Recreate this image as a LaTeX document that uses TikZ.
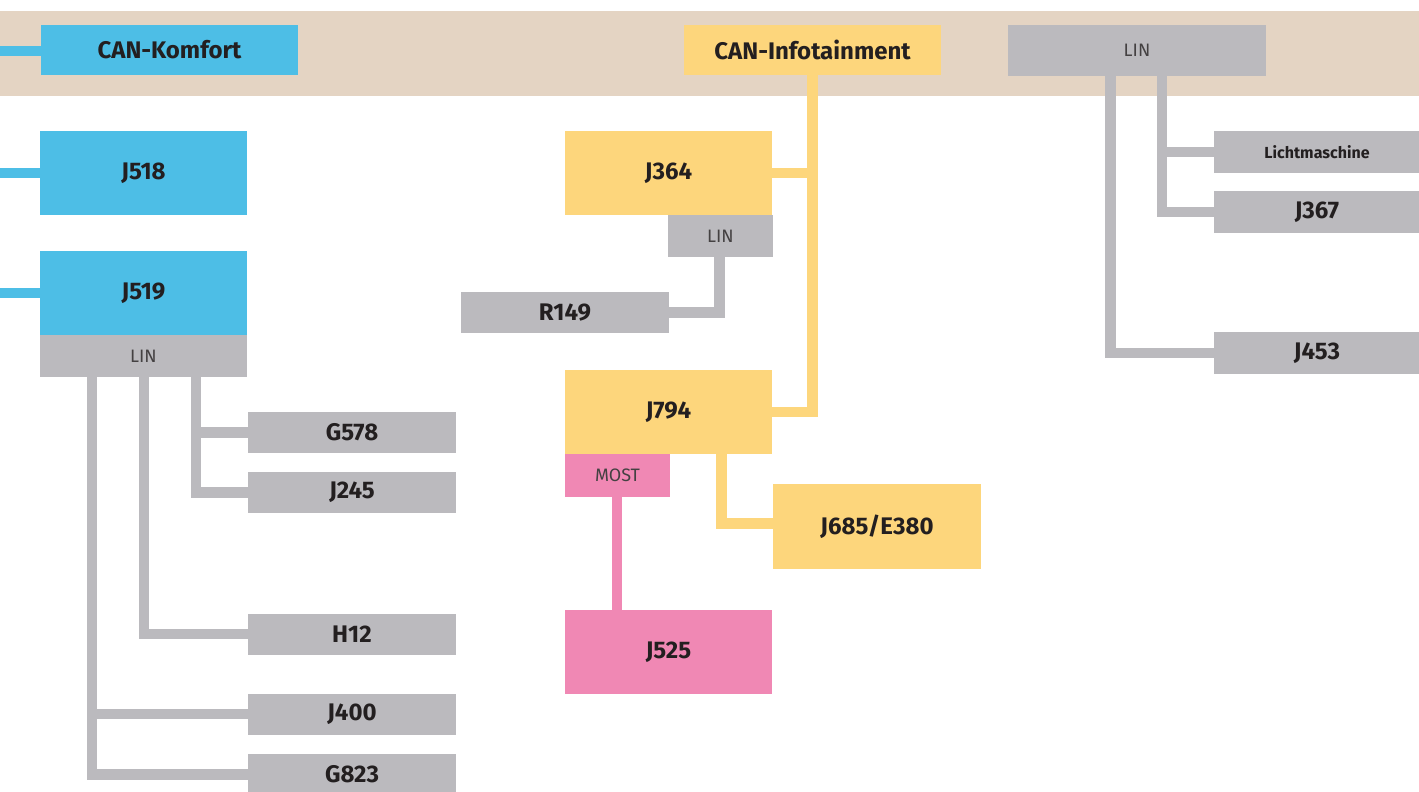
\documentclass[tikz,border=0pt]{standalone}
\usepackage{fontspec}
\setmainfont{Fira Sans}
\definecolor{cblue}{HTML}{4DBEE6}
\definecolor{cyel}{HTML}{FDD67C}
\definecolor{cpink}{HTML}{F088B4}
\definecolor{cgray}{HTML}{BBBABE}
\definecolor{cband}{HTML}{E4D4C3}
\definecolor{ctxt}{HTML}{231F20}
\begin{document}
\begin{tikzpicture}[x=1pt,y=-1pt,
  bx/.style={rectangle, inner sep=0pt, outer sep=0pt, text=ctxt, font=\bfseries\fontsize{24}{24}\selectfont},
  wide/.style={minimum width=207, minimum height=84},
  slim/.style={minimum width=208, minimum height=41},
  bus/.style={rectangle, inner sep=0pt, outer sep=0pt, text=ctxt!85, font=\fontsize{18}{18}\selectfont},
  lb/.style={line width=10.5pt, cblue},
  ly/.style={line width=10.5pt, cyel},
  lp/.style={line width=10.5pt, cpink},
  lg/.style={line width=10.5pt, cgray}]
\useasboundingbox (0,0) rectangle (1419,792);
\clip (0,0) rectangle (1419,792);
\fill[cband] (0,11) rectangle (1419,96);
% left (CAN-Komfort)
\node[bx, fill=cblue, minimum width=257, minimum height=50] (CK) at (169.5,50) {CAN-Komfort};
\node[bx, fill=cblue, wide] (J518) at (143.5,173) {J518};
\node[bx, fill=cblue, wide] (J519) at (143.5,293) {J519};
\node[bus, fill=cgray, minimum width=207, minimum height=42] (L519) at (143.5,356) {LIN};
\node[bx, fill=cgray, slim] (G578) at (352,432.5) {G578};
\node[bx, fill=cgray, slim] (J245) at (352,492.5) {J245};
\node[bx, fill=cgray, slim] (H12) at (352,634) {H12};
\node[bx, fill=cgray, slim] (J400) at (352,714) {J400};
\node[bx, fill=cgray, slim] (G823) at (352,774.5) {G823};
\coordinate (eCK) at (0,51);
\coordinate (e518) at (0,173);
\coordinate (e519) at (0,293);
\draw[lb] (eCK) -- (CK.west |- eCK);
\draw[lb] (e518) -- (J518.west);
\draw[lb] (e519) -- (J519.west);
\draw[lg] ([xshift=52.5pt]L519.south) |- (G578.west);
\draw[lg] ([xshift=52.5pt]L519.south) |- (J245.west);
\draw[lg] ([xshift=0.5pt]L519.south) |- (H12.west);
\draw[lg] ([xshift=-51.5pt]L519.south) |- (J400.west);
\draw[lg] ([xshift=-51.5pt]L519.south) |- (G823.west);
% middle (CAN-Infotainment)
\node[bx, fill=cyel, minimum width=257, minimum height=50] (CI) at (812.5,50) {CAN-Infotainment};
\node[bx, fill=cyel, wide] (J364) at (668.5,173) {J364};
\node[bus, fill=cgray, minimum width=105, minimum height=42] (L364) at (720.5,236) {LIN};
\node[bx, fill=cgray, slim] (R149) at (565,312.5) {R149};
\node[bx, fill=cyel, wide] (J794) at (668.5,412) {J794};
\node[bus, fill=cpink, minimum width=105, minimum height=43] (MOST) at (617.5,475.5) {MOST};
\node[bx, fill=cyel, minimum width=208, minimum height=85] (J685) at (877,526.5) {J685/E380};
\node[bx, fill=cpink, wide] (J525) at (668.5,652) {J525};
\draw[ly] (CI.south) |- (J364.east);
\draw[ly] (CI.south) |- (J794.east);
\draw[lg] ([xshift=-1pt]L364.south) |- (R149.east);
\draw[ly] ([xshift=53pt]J794.south) |- ([yshift=3pt]J685.west);
\draw[lp] ([xshift=-0.5pt]MOST.south) -- ([xshift=-0.5pt]MOST.south |- J525.north);
% right (LIN)
\node[bus, fill=cgray, minimum width=258, minimum height=51] (LR) at (1137,50.5) {LIN};
\node[bx, fill=cgray, minimum width=206, minimum height=42, font=\bfseries\fontsize{16}{16}\selectfont] (LM) at (1317,152) {Lichtmaschine};
\node[bx, fill=cgray, minimum width=206, minimum height=42] (J367) at (1317,212) {J367};
\node[bx, fill=cgray, minimum width=206, minimum height=42] (J453) at (1317,353) {J453};
\draw[lg] ([xshift=25pt]LR.south) |- (LM.west);
\draw[lg] ([xshift=25pt]LR.south) |- (J367.west);
\draw[lg] ([xshift=-26.5pt]LR.south) |- (J453.west);
\end{tikzpicture}
\end{document}
